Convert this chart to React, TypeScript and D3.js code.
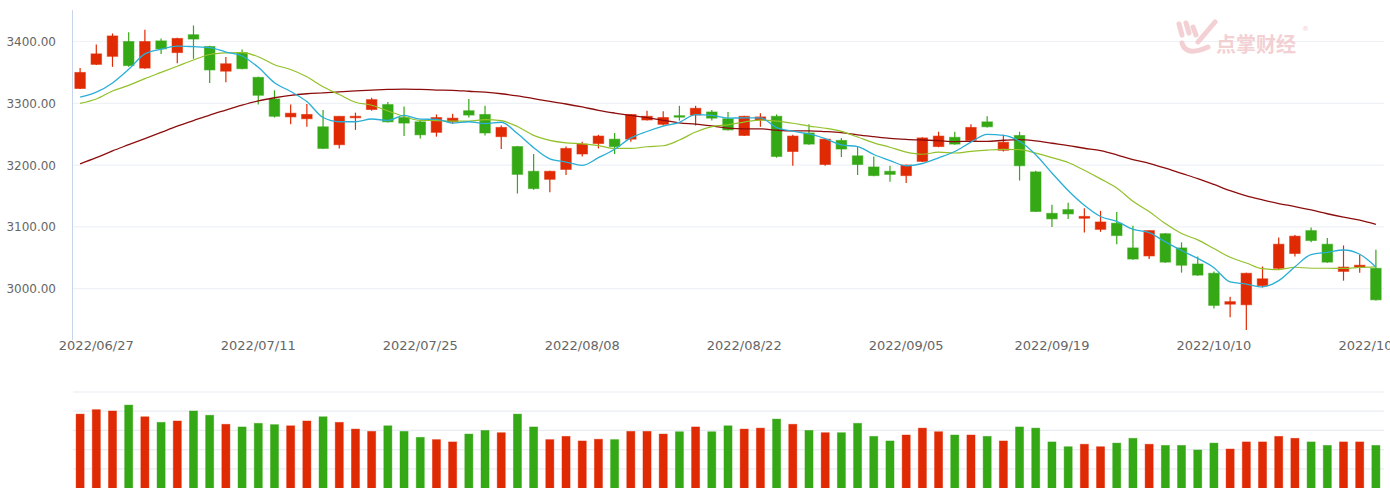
import React from 'react';
import * as d3 from 'd3';

const dates = [
  '2022/06/24', '2022/06/27', '2022/06/28', '2022/06/29', '2022/06/30',
  '2022/07/01', '2022/07/04', '2022/07/05', '2022/07/06', '2022/07/07', '2022/07/08',
  '2022/07/11', '2022/07/12', '2022/07/13', '2022/07/14', '2022/07/15',
  '2022/07/18', '2022/07/19', '2022/07/20', '2022/07/21', '2022/07/22',
  '2022/07/25', '2022/07/26', '2022/07/27', '2022/07/28', '2022/07/29',
  '2022/08/01', '2022/08/02', '2022/08/03', '2022/08/04', '2022/08/05',
  '2022/08/08', '2022/08/09', '2022/08/10', '2022/08/11', '2022/08/12',
  '2022/08/15', '2022/08/16', '2022/08/17', '2022/08/18', '2022/08/19',
  '2022/08/22', '2022/08/23', '2022/08/24', '2022/08/25', '2022/08/26',
  '2022/08/29', '2022/08/30', '2022/08/31', '2022/09/01', '2022/09/02',
  '2022/09/05', '2022/09/06', '2022/09/07', '2022/09/08', '2022/09/09',
  '2022/09/13', '2022/09/14', '2022/09/15', '2022/09/16',
  '2022/09/19', '2022/09/20', '2022/09/21', '2022/09/22', '2022/09/23',
  '2022/09/26', '2022/09/27', '2022/09/28', '2022/09/29', '2022/09/30',
  '2022/10/10', '2022/10/11', '2022/10/12', '2022/10/13', '2022/10/14',
  '2022/10/17', '2022/10/18', '2022/10/19', '2022/10/20', '2022/10/21',
  '2022/10/24',
];

const tickDates = [
  '2022/06/27', '2022/07/11', '2022/07/25', '2022/08/08', '2022/08/22',
  '2022/09/05', '2022/09/19', '2022/10/10', '2022/10/24',
];

const priceTicks = [3000, 3100, 3200, 3300, 3400];
const volumeTicks = [100, 200, 300, 400, 500];

const opens = [
  3324, 3363, 3376, 3400, 3357, 3401, 3382, 3411, 3392, 3352,
  3382, 3342, 3307, 3278, 3275, 3262, 3233, 3277, 3290, 3298,
  3277, 3270, 3253, 3270, 3288, 3282, 3246, 3230, 3190, 3177,
  3193, 3218, 3235, 3242, 3242, 3273, 3266, 3280, 3281, 3286,
  3275, 3248, 3273, 3279, 3222, 3252, 3201, 3240, 3215, 3197,
  3190, 3183, 3206, 3230, 3245, 3240, 3270, 3224, 3248, 3189,
  3122, 3128, 3114, 3096, 3106, 3066, 3053, 3089, 3066, 3040,
  3025, 2975, 2974, 3005, 3033, 3057, 3094, 3072, 3028, 3035,
  3033,
];
const highs = [
  3357, 3395, 3413, 3415, 3419, 3405, 3406, 3426, 3393, 3375,
  3387, 3343, 3321, 3298, 3299, 3289, 3279, 3285, 3309, 3302,
  3295, 3273, 3282, 3283, 3307, 3296, 3264, 3231, 3218, 3191,
  3230, 3238, 3249, 3252, 3282, 3288, 3287, 3296, 3296, 3289,
  3286, 3280, 3284, 3282, 3249, 3266, 3242, 3244, 3230, 3214,
  3199, 3201, 3245, 3254, 3254, 3266, 3279, 3249, 3254, 3191,
  3136, 3139, 3130, 3126, 3124, 3102, 3094, 3090, 3075, 3052,
  3028, 2987, 3026, 3036, 3083, 3087, 3099, 3082, 3070, 3055,
  3063,
];
const lows = [
  3323, 3362, 3359, 3359, 3356, 3380, 3365, 3372, 3333, 3334,
  3355, 3298, 3277, 3266, 3262, 3226, 3227, 3257, 3288, 3269,
  3247, 3243, 3246, 3267, 3277, 3248, 3226, 3154, 3160, 3156,
  3184, 3214, 3227, 3218, 3238, 3272, 3264, 3272, 3264, 3272,
  3256, 3247, 3262, 3212, 3199, 3233, 3199, 3213, 3184, 3182,
  3173, 3171, 3205, 3229, 3233, 3238, 3261, 3222, 3175, 3124,
  3100, 3113, 3091, 3092, 3072, 3047, 3048, 3042, 3026, 3021,
  2968, 2954, 2933, 3002, 3032, 3052, 3075, 3042, 3013, 3026,
  2981,
];
const closes = [
  3350, 3380, 3409, 3361, 3400, 3388, 3405, 3404, 3354, 3364,
  3356, 3313, 3279, 3284, 3282, 3227, 3279, 3279, 3306, 3270,
  3268, 3249, 3277, 3276, 3281, 3252, 3261, 3185, 3162, 3190,
  3227, 3234, 3247, 3230, 3282, 3279, 3277, 3278, 3292, 3276,
  3257, 3279, 3278, 3214, 3247, 3234, 3242, 3226, 3201, 3183,
  3185, 3200, 3244, 3247, 3234, 3261, 3262, 3237, 3199, 3125,
  3113, 3121, 3117, 3108, 3086, 3048, 3094, 3043, 3038, 3022,
  2973, 2979, 3025, 3016, 3072, 3085, 3078, 3043, 3035, 3038,
  2982,
];

const volumes = [
  385, 408, 401, 432, 371, 342, 349, 401, 379, 332,
  318, 337, 330, 324, 349, 371, 342, 307, 295, 324,
  295, 264, 252, 240, 281, 300, 288, 385, 318, 252,
  269, 245, 254, 252, 295, 295, 281, 293, 318, 293,
  324, 307, 312, 359, 332, 300, 288, 288, 337, 269,
  245, 276, 312, 293, 276, 276, 269, 245, 318, 312,
  240, 215, 228, 215, 234, 259, 228, 222, 222, 198,
  234, 203, 240, 240, 269, 259, 240, 222, 240, 240,
  222,
];

const ma5 = [
  3310, 3318, 3333, 3355, 3380, 3387.6, 3392.6, 3391.6, 3390.2, 3383,
  3376.6, 3358.2, 3333.2, 3319.2, 3302.8, 3277, 3270.2, 3270.2, 3274.6, 3272.2,
  3280.4, 3274.4, 3274, 3268, 3270.2, 3267, 3269.4, 3251, 3228.2, 3210,
  3205, 3199.6, 3212, 3225.6, 3244, 3254.4, 3263, 3269.2, 3281.6, 3280.4,
  3276, 3276.4, 3276.4, 3260.8, 3255, 3250.4, 3243, 3232.6, 3230, 3217.2,
  3207.4, 3199, 3202.6, 3211.8, 3222, 3237.2, 3249.6, 3248.2, 3238.6, 3216.8,
  3187.2, 3159, 3135, 3116.8, 3109, 3096, 3090.6, 3075.8, 3061.8, 3049,
  3034, 3011, 3007.4, 3003, 3013, 3035.4, 3055.2, 3058.8, 3062.6, 3055.8,
  3035.2,
];
const ma10 = [
  3300, 3307, 3320, 3329, 3340, 3350, 3360, 3370, 3379, 3381.5,
  3382.1, 3375.4, 3362.4, 3354.7, 3342.9, 3326.8, 3314.2, 3301.7, 3296.9, 3287.5,
  3278.7, 3272.3, 3272.1, 3271.3, 3271.2, 3273.7, 3271.9, 3262.5, 3248.1, 3240.1,
  3236, 3234.5, 3231.5, 3226.9, 3227, 3229.7, 3231.3, 3240.6, 3253.6, 3262.2,
  3265.2, 3269.7, 3272.8, 3271.2, 3267.7, 3263.2, 3259.7, 3254.5, 3245.4, 3236.1,
  3228.9, 3221, 3217.6, 3220.9, 3219.6, 3222.3, 3224.3, 3225.4, 3225.2, 3219.4,
  3212.2, 3204.3, 3191.6, 3177.7, 3162.9, 3141.6, 3124.8, 3105.4, 3089.3, 3079,
  3065, 3050.8, 3041.6, 3032.4, 3031, 3034.7, 3033.1, 3033.1, 3032.8, 3034.4,
  3035.3,
];
const ma30 = [
  3202, 3212, 3223, 3233, 3243, 3253, 3263, 3272, 3281, 3289,
  3297, 3304, 3309, 3313, 3315.5, 3317, 3318.5, 3320, 3321.5, 3322.5,
  3323, 3322.5, 3321.5, 3321, 3319.5, 3318, 3315.5, 3312, 3307.5, 3303,
  3298.9, 3294.1, 3288.7, 3284.3, 3280.4, 3276.7, 3272.5, 3268.3, 3266.2, 3263.3,
  3260, 3258.8, 3258.8, 3256.5, 3255.3, 3255.5, 3254.3, 3252.5, 3249, 3246.1,
  3243.4, 3241.7, 3240.6, 3239.7, 3238.1, 3238.4, 3238.4, 3240.2, 3241.4, 3239.2,
  3235.4, 3231.7, 3227.3, 3223.3, 3216.7, 3209, 3202.9, 3195.1, 3186.6, 3178.2,
  3168.7, 3158.7, 3150.3, 3143.7, 3137.8, 3132.9, 3127.4, 3121.3, 3115.8, 3110.9,
  3104.2,
];

const W = 1390;
const H = 488;
const RED = '#e02a04';
const GREEN = '#35a815';
const FONT = "'DejaVu Sans', Verdana, sans-serif";

export default function App() {
  const x = d3.scaleBand<string>().domain(dates).range([72, 1384]).padding(0);
  const bw = x.bandwidth();
  const cx = (i: number) => (x(dates[i]) as number) + bw / 2;
  const y = d3.scaleLinear().domain([2917, 3451]).range([340, 10]);
  const yv = d3.scaleLinear().domain([0, 500]).range([488, 392]);

  const lineGen = d3
    .line<number>()
    .x((_, i) => cx(i))
    .y((d) => y(d))
    .curve(d3.curveMonotoneX);

  const bodyW = bw * 0.65;
  const volW = bw * 0.5;

  return (
    <div>
      <style>{`body{margin:0;}`}</style>
      <svg width={W} height={H} style={{ display: 'block', background: '#fff' }}>
        {/* price grid */}
        {priceTicks.map((t) => (
          <line key={'g' + t} x1={72} x2={1384} y1={y(t)} y2={y(t)} stroke="#eef2f7" strokeWidth={1.2} />
        ))}
        {/* volume grid */}
        {volumeTicks.map((t) => (
          <line key={'vg' + t} x1={73} x2={1384} y1={yv(t)} y2={yv(t)} stroke="#e7ecf2" strokeWidth={1.2} />
        ))}

        {/* watermark */}
        <g opacity={0.85}>
          <path d="M1179,24 L1182,35" stroke="#f2c8cc" strokeWidth={5} strokeLinecap="round" fill="none" />
          <path d="M1186,23 L1189,33" stroke="#f2c8cc" strokeWidth={5} strokeLinecap="round" fill="none" />
          <path d="M1193,27 L1196,35" stroke="#f2c8cc" strokeWidth={5} strokeLinecap="round" fill="none" />
          <path d="M1215,22 L1198,42" stroke="#f2c8cc" strokeWidth={5} strokeLinecap="round" fill="none" />
          <path d="M1182,43 Q1186,57 1208,47" stroke="#f2c8cc" strokeWidth={5} strokeLinecap="round" fill="none" />
          <text x={1216} y={52} fontFamily="'Noto Sans CJK SC', sans-serif" fontWeight={700} fontSize={20} fill="#f2c8cc">
            点掌财经
          </text>
          <text x={1302} y={31} fontFamily={FONT} fontSize={7} fill="#f2c8cc">®</text>
        </g>

        {/* left axis line */}
        <line x1={72.5} x2={72.5} y1={10} y2={340} stroke="#c6d5ea" strokeWidth={1} />

        {/* y labels */}
        {priceTicks.map((t) => (
          <text key={'yl' + t} x={56} y={y(t) + 4.5} textAnchor="end" fontFamily={FONT} fontSize={12} fill="#666">
            {t.toFixed(2)}
          </text>
        ))}

        {/* x labels */}
        {tickDates.map((d) => (
          <text
            key={'xl' + d}
            x={(x(d) as number) + bw / 2}
            y={350}
            textAnchor="middle"
            fontFamily={FONT}
            fontSize={13}
            fill="#666"
          >
            {d}
          </text>
        ))}

        {/* candles */}
        {dates.map((d, i) => {
          const o = opens[i];
          const c = closes[i];
          const col = c >= o ? RED : GREEN;
          const top = y(Math.max(o, c));
          const bot = y(Math.min(o, c));
          return (
            <g key={'c' + d}>
              <line x1={cx(i)} x2={cx(i)} y1={y(highs[i])} y2={y(lows[i])} stroke={col} strokeWidth={1.2} />
              <rect
                x={cx(i) - bodyW / 2}
                y={top}
                width={bodyW}
                height={Math.max(1.5, bot - top)}
                fill={col}
                stroke={col}
                strokeOpacity={0.55}
                strokeWidth={1}
              />
            </g>
          );
        })}

        {/* moving averages */}
        <path d={lineGen(ma30) || ''} fill="none" stroke="#8d0d0d" strokeWidth={1.3} />
        <path d={lineGen(ma10) || ''} fill="none" stroke="#92c12a" strokeWidth={1.2} />
        <path d={lineGen(ma5) || ''} fill="none" stroke="#2aaed6" strokeWidth={1.3} />

        {/* volume bars */}
        {dates.map((d, i) => {
          const col = closes[i] >= opens[i] ? RED : GREEN;
          return (
            <rect
              key={'v' + d}
              x={cx(i) - volW / 2}
              y={yv(volumes[i])}
              width={volW}
              height={yv(0) - yv(volumes[i])}
              fill={col}
              stroke={col}
              strokeOpacity={0.5}
              strokeWidth={0.8}
            />
          );
        })}
      </svg>
    </div>
  );
}
